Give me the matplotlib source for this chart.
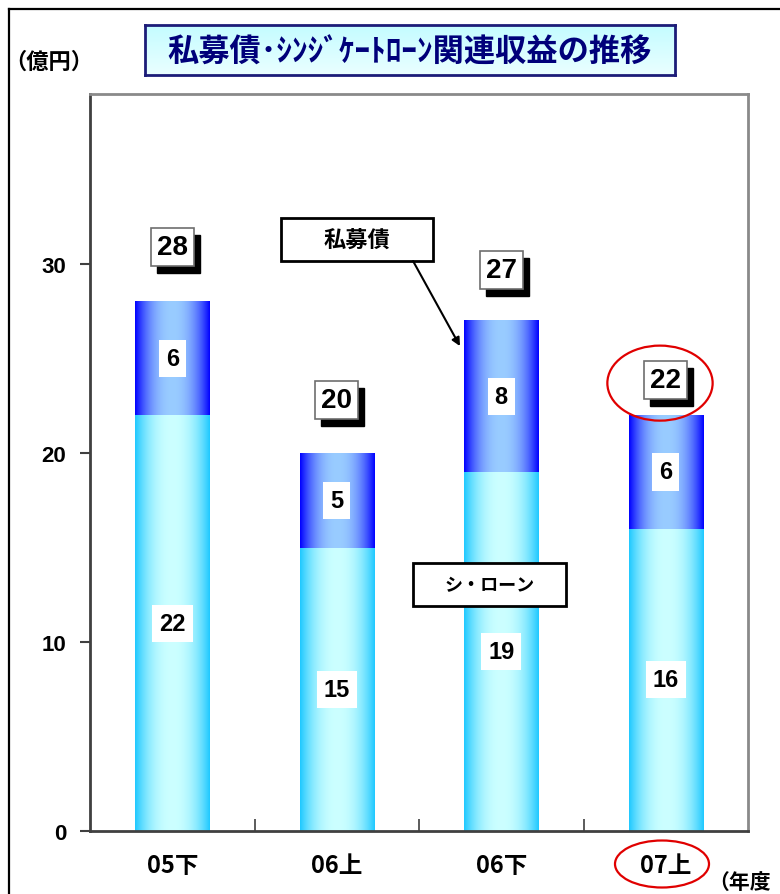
import numpy as np
import matplotlib.pyplot as plt
import matplotlib.colors as mcolors
from matplotlib import transforms
from matplotlib.patches import Rectangle, Ellipse
from matplotlib.lines import Line2D

plt.rcParams['font.family'] = ['Liberation Sans', 'Noto Sans CJK JP']
plt.rcParams['font.weight'] = 'bold'
JP = ['Noto Sans CJK JP', 'DejaVu Sans']

# 収益（億円）
categories = ['05下', '06上', '06下', '07上']
loan = [22, 15, 19, 16]      # シ・ローン
private = [6, 5, 8, 6]       # 私募債
totals = [28, 20, 27, 22]
total_lift = [2.9, 2.8, 2.7, 1.85]   # how far each total label sits above its bar

W, H = 780, 895
fig = plt.figure(figsize=(W / 100, H / 100), dpi=100)
ax = fig.add_axes([90 / W, 1 - 832 / H, (748 - 90) / W, (832 - 95) / H])


def hgrad(edge, center, n=256, p=2.2):
    t = np.abs(np.linspace(-1, 1, n)) ** p
    e = np.array(mcolors.to_rgb(edge))
    c = np.array(mcolors.to_rgb(center))
    return (c + (e - c) * t[:, None])[None, :, :]


grad_loan = hgrad('#1ec8ff', '#ccffff')
grad_priv = hgrad('#0000ff', '#99ccff')

x = np.arange(len(categories))
width = 0.45
b1 = ax.bar(x, loan, width, color='none', zorder=2)
b2 = ax.bar(x, private, width, bottom=loan, color='none', zorder=2)

for bars, g in ((b1, grad_loan), (b2, grad_priv)):
    for p in bars:
        x0, y0 = p.get_xy()
        ax.imshow(g, extent=[x0, x0 + p.get_width(), y0, y0 + p.get_height()],
                  aspect='auto', interpolation='bilinear', zorder=2)

# segment values
for xi, lo, pr in zip(x, loan, private):
    for yc, v in ((lo / 2, lo), (lo + pr / 2, pr)):
        ax.text(xi, yc, str(v), ha='center', va='center', fontsize=17,
                bbox=dict(boxstyle='square,pad=0.3', fc='white', ec='none'), zorder=4)

# totals with drop shadow
shadow = transforms.offset_copy(ax.transData, fig=fig, x=6, y=-7, units='dots')
for xi, t, lift in zip(x, totals, total_lift):
    ax.text(xi, t + lift, str(t), ha='center', va='center', fontsize=20, color='black',
            transform=shadow,
            bbox=dict(boxstyle='square,pad=0.22', fc='black', ec='black'), zorder=4)
    ax.text(xi, t + lift, str(t), ha='center', va='center', fontsize=20,
            bbox=dict(boxstyle='square,pad=0.22', fc='white', ec='#6e6e6e', lw=1.2), zorder=5)

# series call-outs
def callout(cx, cy, text, size):
    w, h = 0.925, 2.28
    ax.add_patch(Rectangle((cx - w / 2, cy - h / 2), w, h, fc='white', ec='black',
                           lw=2, zorder=6))
    ax.text(cx, cy, text, ha='center', va='center', fontsize=size, fontfamily=JP,
            fontweight='bold', zorder=7)


callout(1.123, 31.3, '私募債', 16)
callout(1.929, 13.05, 'シ・ローン', 13)
ax.annotate('', xy=(1.749, 25.66), xytext=(1.464, 30.16),
            arrowprops=dict(arrowstyle='-|>', color='black', lw=1.5,
                            mutation_scale=12, shrinkA=0, shrinkB=0), zorder=6)

ax.add_patch(Ellipse((2.965, 23.7), 0.64, 3.97, fc='none', ec='#e00000', lw=1.6, zorder=7))

ax.set_xlim(-0.5, 3.5)
ax.set_ylim(0, 39)
ax.set_yticks([0, 10, 20, 30])
ax.tick_params(axis='y', direction='out', length=7, width=1.5, color='#404040',
               pad=10, labelsize=16)
ax.set_xticks(x, categories)
for lab in ax.get_xticklabels():
    lab.set_fontfamily(JP)
    lab.set_fontweight('bold')
ax.tick_params(axis='x', which='major', length=0, pad=16, labelsize=17)
ax.set_xticks([0.5, 1.5, 2.5], minor=True)
ax.tick_params(axis='x', which='minor', direction='in', length=9, width=1.2,
               color='#404040')

for s in ('top', 'right'):
    ax.spines[s].set_color('#8a8a8a')
    ax.spines[s].set_linewidth(2)
for s in ('left', 'bottom'):
    ax.spines[s].set_color('#404040')
    ax.spines[s].set_linewidth(2)

# title box
tax = fig.add_axes([145 / W, 1 - 76 / H, 530 / W, 50 / H])
vg = np.linspace(0, 1, 64)[:, None, None]
top_c = np.array(mcolors.to_rgb('#c4fcff'))
bot_c = np.array(mcolors.to_rgb('#eaffff'))
tax.imshow(top_c + (bot_c - top_c) * vg * np.ones((1, 2, 1)), aspect='auto',
           extent=[0, 1, 0, 1], interpolation='bilinear')
tax.set_xticks([])
tax.set_yticks([])
for s in tax.spines.values():
    s.set_color('#1c1c78')
    s.set_linewidth(2)
tax.text(0.5, 0.47, '私募債･ｼﾝｼﾞｹｰﾄﾛｰﾝ関連収益の推移', ha='center', va='center',
         fontsize=22.5, fontweight='bold', color='#00007a', fontfamily=JP)

fig.text(4 / W, 1 - 62 / H, '（億円）', ha='left', va='center', fontsize=16,
         fontfamily=JP, fontweight='bold')
fig.text(708 / W, 1 - 882 / H, '（年度', ha='left', va='center', fontsize=15,
         fontfamily=JP, fontweight='bold')

fig.add_artist(Ellipse((662 / W, 1 - 865 / H), 94 / W, 47 / H, transform=fig.transFigure,
                       fc='none', ec='#e00000', lw=1.6))

# outer frame
fig.add_artist(Line2D([9 / W, 9 / W], [0, 1 - 10 / H], transform=fig.transFigure,
                      color='black', lw=1.6))
fig.add_artist(Line2D([9 / W, 1], [1 - 10 / H, 1 - 10 / H], transform=fig.transFigure,
                      color='black', lw=1.6))

fig.savefig('out.png', dpi=100)
